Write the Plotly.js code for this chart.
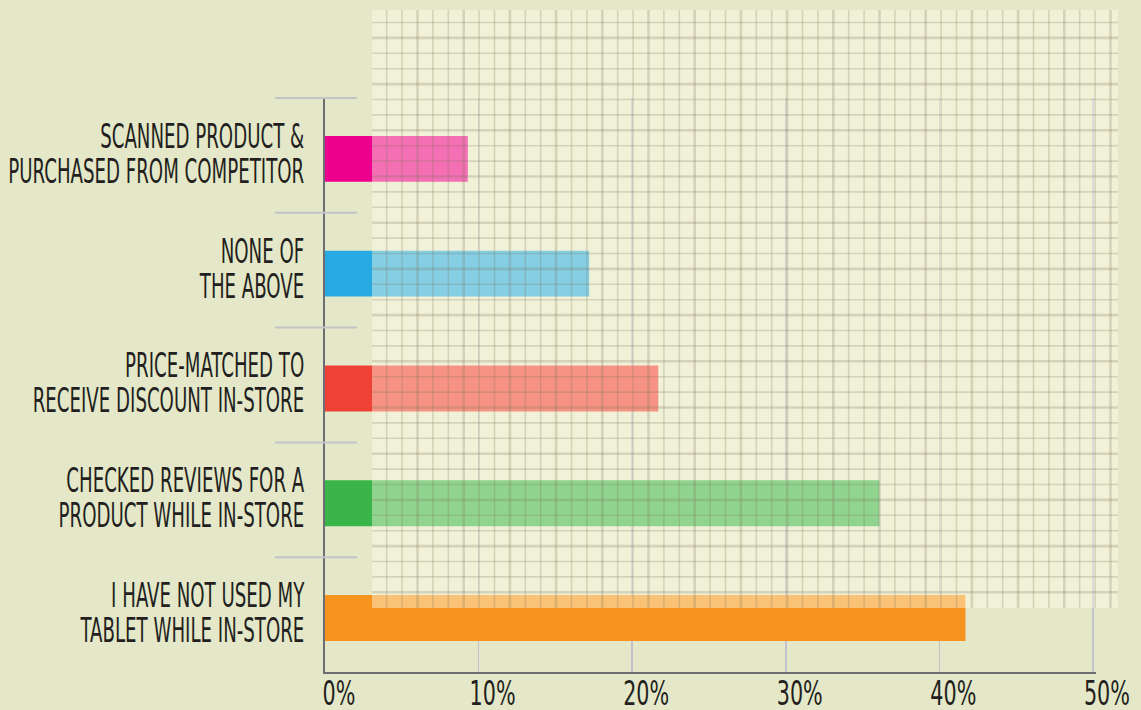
<!DOCTYPE html>
<html>
<head>
<meta charset="utf-8">
<script src="https://cdn.plot.ly/plotly-3.0.1.min.js"></script>
<style>
  html, body { margin: 0; padding: 0; background: #e4e8c9; }
  #chart { width: 1141px; height: 710px; }
</style>
</head>
<body>
<div id="chart"></div>
<script>
// ---- data (bottom to top) ----
const categories = [
  "I HAVE NOT USED MY<br>TABLET WHILE IN-STORE",
  "CHECKED REVIEWS FOR A<br>PRODUCT WHILE IN-STORE",
  "PRICE-MATCHED TO<br>RECEIVE DISCOUNT IN-STORE",
  "NONE OF<br>THE ABOVE",
  "SCANNED PRODUCT &<br>PURCHASED FROM COMPETITOR"
];
const values = [41.7, 36.1, 21.7, 17.2, 9.3];
const barColors = ["#f7941e", "#39b54a", "#ef4136", "#27aae1", "#ec008c"];
const tickValues = [0, 10, 20, 30, 40, 50];
const tickLabels = ["0%", "10%", "20%", "30%", "40%", "50%"];

const FONT = '"DejaVu Sans Condensed", "Liberation Sans Narrow", "Liberation Sans", sans-serif';
const TEXT = '#231f20';

// plot area geometry (px) used only to place the decorative paper-grid
const W = 1141, H = 710, L = 325, R = 45, T = 98, B = 38;
const PW = W - L - R, PH = H - T - B;
const px = v => (v - L) / PW;
const py = v => (H - B - v) / PH;

const shapes = [];
// category separators
for (let i = 1; i <= categories.length; i++) {
  shapes.push({type: 'line', xref: 'paper', yref: 'paper', x0: px(275), x1: px(357),
    y0: i / categories.length, y1: i / categories.length, layer: 'above',
    line: {color: '#c4c4c8', width: 2}});
}
// translucent graph-paper panel over the bars
const panel = {x0: 372, x1: 1118, y0: 10, y1: 608};
shapes.push({type: 'rect', xref: 'paper', yref: 'paper', x0: px(panel.x0), x1: px(panel.x1),
  y0: py(panel.y1), y1: py(panel.y0), layer: 'above', line: {width: 0},
  fillcolor: 'rgba(255,252,233,0.44)'});
const step = 15.4;
const gridCol = 'rgba(125,118,90,0.24)';
let k = 0;
for (let gx = 386.7; gx < panel.x1 - 4; gx += step, k++) {
  shapes.push({type: 'line', xref: 'paper', yref: 'paper', x0: px(gx), x1: px(gx),
    y0: py(panel.y1), y1: py(panel.y0), layer: 'above',
    line: {color: gridCol, width: (k % 3 === 2) ? 2.6 : 1.6}});
}
k = 0;
for (let gy = 22.5; gy < panel.y1 - 4; gy += step, k++) {
  shapes.push({type: 'line', xref: 'paper', yref: 'paper', x0: px(panel.x0), x1: px(panel.x1),
    y0: py(gy), y1: py(gy), layer: 'above',
    line: {color: gridCol, width: (k % 3 === 1) ? 2.6 : 1.6}});
}

const data = [{
  type: 'bar', orientation: 'h',
  x: values, y: categories,
  width: 0.4, offset: -0.23,
  marker: {color: barColors, line: {width: 0}},
  hoverinfo: 'x+y'
}];

const layout = {
  width: W, height: H,
  paper_bgcolor: '#e4e8c9', plot_bgcolor: 'rgba(0,0,0,0)',
  margin: {l: L, r: R, t: T, b: B, pad: 0},
  showlegend: false,
  font: {family: FONT, color: TEXT},
  xaxis: {
    range: [0, 50.2], tickvals: tickValues, ticktext: tickLabels,
    showgrid: true, gridcolor: 'rgba(190,188,205,0.9)', gridwidth: 1.5,
    zeroline: false, showline: true, linecolor: '#6d6e71', linewidth: 2,
    ticks: '', tickfont: {family: FONT, size: 34, color: TEXT},
    ticklabelshift: 14, ticklabelstandoff: -10, ticklabeloverflow: 'allow', fixedrange: true
  },
  yaxis: {
    type: 'category', categoryorder: 'array', categoryarray: categories,
    range: [-0.5, categories.length - 0.5],
    showgrid: false, zeroline: false, showline: true, linecolor: '#6d6e71', linewidth: 2,
    ticks: '', tickfont: {family: FONT, size: 34, color: TEXT},
    ticklabelstandoff: 12, ticklabeloverflow: 'allow', fixedrange: true
  },
  shapes: shapes
};

const gd = document.getElementById('chart');
Plotly.newPlot(gd, data, layout, {displayModeBar: false, staticPlot: true}).then(() => {
  // emulate the very condensed display typeface of the original
  const yTexts = Array.from(gd.querySelectorAll('.ytick text'));
  const info = yTexts.map(t => {
    const b0 = t.getBBox();
    const cy0 = b0.y + b0.height / 2, right = b0.x + b0.width;
    t.querySelectorAll('tspan.line').forEach((s, i) => { if (i > 0) s.setAttribute('dy', '1.03em'); });
    const b1 = t.getBBox();
    return {t, right, dy: cy0 - (b1.y + b1.height / 2) - 2, w: b1.width};
  });
  const labelArea = 296;
  const sy = labelArea / Math.max(...info.map(d => d.w));
  info.forEach(d => {
    const tr = d.t.getAttribute('transform') || '';
    d.t.setAttribute('transform', tr + ` translate(${d.right},${d.dy}) scale(${sy},1) translate(${-d.right},0)`);
  });
  const xTexts = Array.from(gd.querySelectorAll('.xtick text'));
  const xb = xTexts.map(t => t.getBBox());
  const sx = 46 / Math.max(...xb.map(b => b.width));
  xTexts.forEach((t, i) => {
    const cx = xb[i].x + xb[i].width / 2;
    const tr = t.getAttribute('transform') || '';
    t.setAttribute('transform', tr + ` translate(${cx},0) scale(${sx},1) translate(${-cx},0)`);
  });
});
</script>
</body>
</html>
